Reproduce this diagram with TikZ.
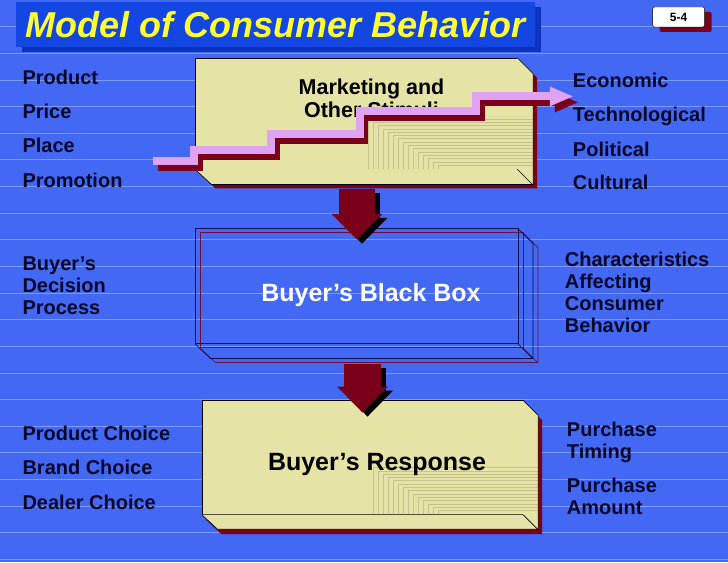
\documentclass[tikz,border=0pt]{standalone}
\usepackage{fontspec}
\setmainfont{Liberation Sans}
\usetikzlibrary{arrows.meta,shadows,backgrounds}

\definecolor{bgblue}{HTML}{4268F4}
\definecolor{ruleblue}{HTML}{7E9AF8}
\definecolor{titleblue}{HTML}{1446E2}
\definecolor{titleshade}{HTML}{0B33BE}
\definecolor{titleyellow}{HTML}{FFFF33}
\definecolor{khaki}{HTML}{E5E3A6}
\definecolor{khakiline}{HTML}{C6C28C}
\definecolor{maroon}{HTML}{7A0019}
\definecolor{lilac}{HTML}{E0A2F2}
\definecolor{inkblue}{HTML}{07072B}
\definecolor{boxnavy}{HTML}{10104A}
\definecolor{boxplum}{HTML}{6A1040}

\tikzset{
  lbl/.style={font=\bfseries\fontsize{20}{22}\selectfont, text=inkblue, inner sep=0pt},
  face/.style={draw=black, line width=0.6pt, fill=khaki, inner sep=0pt},
  grain/.style={khakiline, line width=0.4pt},
  downarrow/.style={line width=37pt, -{Triangle[width=51pt,length=26pt,line width=0pt]}},
  stairs/.style={line width=8pt, -{Triangle[width=20pt,length=23pt,line width=0pt]}}
}
\newcommand\stairpath{(153,161.5) -| (193.5,150.5) -| (270.5,134) -| (359.5,111.5) -| (476.5,96.5) -- (573,96.5)}

\begin{document}
\begin{tikzpicture}[x=1pt, y=-1pt]
    % Background
    \begin{scope}[on background layer]
        \fill[bgblue] (0,0) rectangle (728,563);
        \foreach \k in {1,...,21}
            \draw[ruleblue, line width=0.8pt] (0,26.67*\k) -- (728,26.67*\k);
    \end{scope}
    \useasboundingbox (0,0) rectangle (728,563);

    % Title
    \node[fill=titleblue, inner sep=0pt, minimum width=519pt, minimum height=44.7pt,
          general shadow={fill=titleshade, shadow xshift=6pt, shadow yshift=-5pt},
          font=\bfseries\itshape\fontsize{36}{40}\selectfont, text=titleyellow] (title) at (275.5,24.3) {Model of Consumer Behavior};
    \node[draw, fill=white, rounded corners=2pt, inner sep=0pt, minimum width=52pt, minimum height=20pt,
          general shadow={fill=maroon, shadow xshift=7pt, shadow yshift=-5pt},
          font=\bfseries\fontsize{12}{14}\selectfont] (slideno) at (679,17) {5-4};

    % Stimuli box
    \node[face, minimum width=322pt, minimum height=111pt] (stim) at (356,113.5) {};
    \begin{scope}[on background layer]
        \fill[maroon] ([shift={(4,4)}]stim.north west) -- ([shift={(4,4)}]stim.north east) -- ++(16,16) -- ++(0,111) -- ++(-322,0) -- ([shift={(4,4)}]stim.south west) -- cycle;
    \end{scope}
    \fill[khaki] (stim.north east) -- ++(16,16) -- ++(0,111) -- ++(-322,0) -- (stim.south west) -- (stim.south east) -- cycle;
    \foreach \i in {0,...,14}
        \draw[grain] (368+5*\i,168.7) |- (516.7,119+3.3*\i);
    \begin{scope}
        \clip (stim.north east) -- ++(16,16) -- ++(0,111) -- (stim.south east) -- cycle;
        \foreach \i in {0,...,14}
            \draw[grain] (517,119+3.3*\i) -- (533,119+3.3*\i);
    \end{scope}
    \draw[black, line width=0.6pt] (stim.north east) -- ++(16,16) -- ++(0,111) -- ++(-322,0) -- (stim.south west);
    \draw[black, line width=0.6pt] (stim.south east) -- ++(16,16);
    \node[font=\bfseries\fontsize{21.5}{23}\selectfont, align=center, anchor=north, inner sep=0pt] (stimtext) at (371.5,78.6) {Marketing and\\Other Stimuli};

    % Stairs
    \draw[stairs, maroon, shift={(5,6)}] \stairpath;
    \draw[stairs, lilac] \stairpath;

    % Black box
    \node[inner sep=0pt, minimum width=323pt, minimum height=115pt] (blackbox) at (356.5,286.5) {};
    \foreach \dx/\dy/\c in {5/4/boxplum, 0/0/boxnavy} {
        \draw[\c, line width=0.7pt] ([shift={(\dx,\dy)}]blackbox.north west) rectangle ([shift={(\dx,\dy)}]blackbox.south east);
        \draw[\c, line width=0.7pt] ([shift={(\dx,\dy)}]blackbox.north east) -- ++(15,15) -- ++(0,115) -- ++(-323,0) -- ([shift={(\dx,\dy)}]blackbox.south west);
        \draw[\c, line width=0.7pt] ([shift={(\dx,\dy)}]blackbox.south east) -- ++(15,15);
    }
    \node[font=\bfseries\fontsize{25}{28}\selectfont, text=white, anchor=base, inner sep=0pt] (bbtext) at (371,302) {Buyer’s Black Box};

    % Response box
    \node[face, minimum width=321pt, minimum height=114pt] (response) at (362.5,458) {};
    \begin{scope}[on background layer]
        \fill[maroon] ([shift={(4,5)}]response.north west) -- ([shift={(4,5)}]response.north east) -- ++(15,15) -- ++(0,114) -- ++(-321,0) -- ([shift={(4,5)}]response.south west) -- cycle;
    \end{scope}
    \fill[khaki] (response.north east) -- ++(15,15) -- ++(0,114) -- ++(-321,0) -- (response.south west) -- (response.south east) -- cycle;
    \foreach \i in {0,...,13}
        \draw[grain] (373+5*\i,514.7) |- (522.7,468+3.3*\i);
    \begin{scope}
        \clip (response.north east) -- ++(15,15) -- ++(0,114) -- (response.south east) -- cycle;
        \foreach \i in {0,...,13}
            \draw[grain] (523,468+3.3*\i) -- (538,468+3.3*\i);
    \end{scope}
    \draw[black, line width=0.6pt] (response.north east) -- ++(15,15) -- ++(0,114) -- ++(-321,0) -- (response.south west);
    \draw[black, line width=0.6pt] (response.south east) -- ++(15,15);
    \node[font=\bfseries\fontsize{25}{28}\selectfont, anchor=base, inner sep=0pt] (resptext) at (377,471) {Buyer’s Response};

    % Down arrows
    \coordinate (a1top) at (357,189);
    \coordinate (a1tip) at (357,240);
    \coordinate (a2top) at (362.5,364);
    \coordinate (a2tip) at (362.5,413);
    \draw[downarrow, black] ([shift={(5,4)}]a1top) -- ([shift={(5,4)}]a1tip);
    \draw[downarrow, maroon] (a1top) -- (a1tip);
    \draw[downarrow, black] ([shift={(5,4)}]a2top) -- ([shift={(5,4)}]a2tip);
    \draw[downarrow, maroon] (a2top) -- (a2tip);

    % Labels left
    \node[lbl, anchor=base west] (product) at (22,85) {Product};
    \node[lbl, anchor=base west] (price) at (22,119) {Price};
    \node[lbl, anchor=base west] (place) at (22,153) {Place};
    \node[lbl, anchor=base west] (promotion) at (22,188) {Promotion};
    \node[lbl, anchor=north west, align=left] (decision) at (22,256.4) {Buyer’s\\Decision\\Process};
    \node[lbl, anchor=base west] (prodchoice) at (22,440.7) {Product Choice};
    \node[lbl, anchor=base west] (brandchoice) at (22,475) {Brand Choice};
    \node[lbl, anchor=base west] (dealerchoice) at (22,510) {Dealer Choice};

    % Labels right
    \node[lbl, anchor=base west] (economic) at (573,87.7) {Economic};
    \node[lbl, anchor=base west] (technological) at (573,121.7) {Technological};
    \node[lbl, anchor=base west] (political) at (573,156.7) {Political};
    \node[lbl, anchor=base west] (cultural) at (573,190) {Cultural};
    \node[lbl, anchor=north west, align=left] (characteristics) at (565,251.7) {Characteristics\\Affecting\\Consumer\\Behavior};
    \node[lbl, anchor=north west, align=left] (timing) at (567,422.4) {Purchase\\Timing};
    \node[lbl, anchor=north west, align=left] (amount) at (567,478.4) {Purchase\\Amount};
\end{tikzpicture}
\end{document}
